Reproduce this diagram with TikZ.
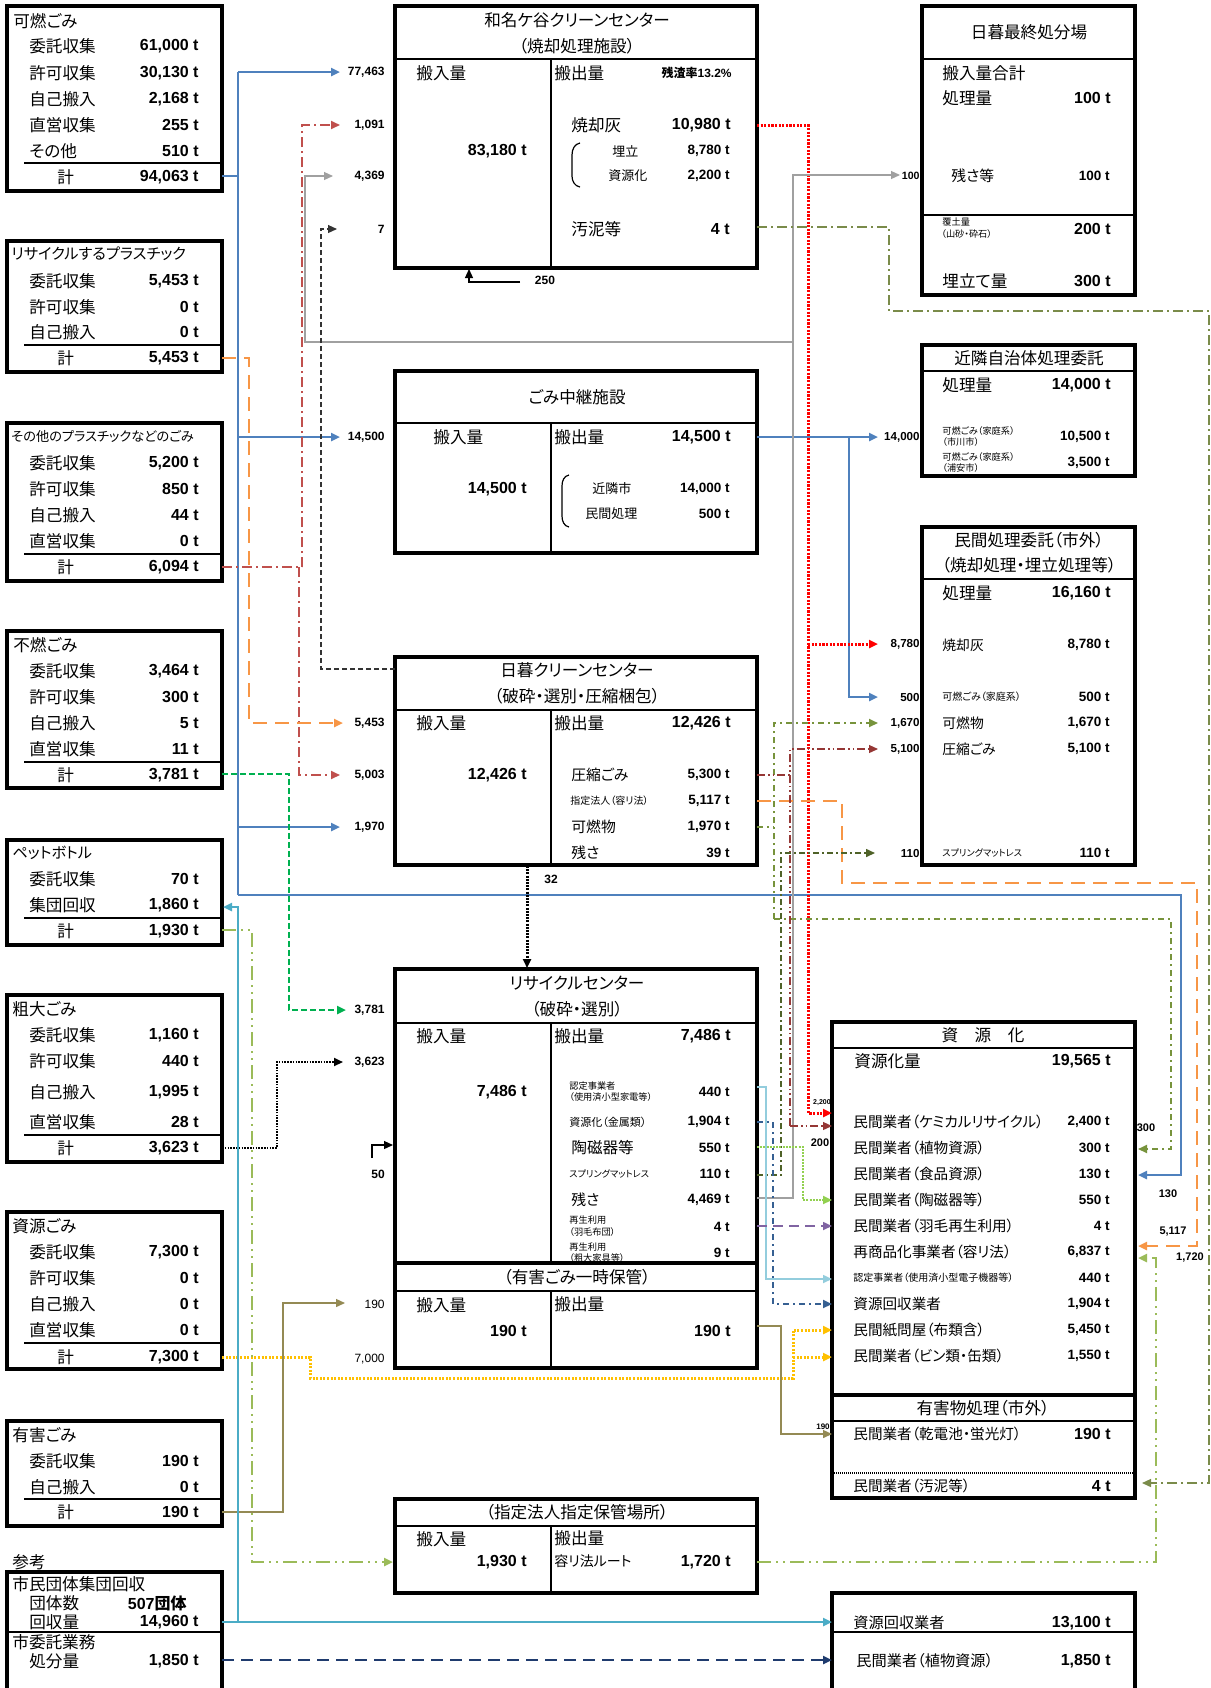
\documentclass[tikz,border=0pt]{standalone}
\usepackage{fontspec}
\setmainfont{Noto Sans CJK JP}[RawFeature=+palt]
\newfontfamily\lib{Liberation Sans}
\usetikzlibrary{arrows.meta}
\definecolor{cBlue}{HTML}{4F81BD}
\definecolor{cRed}{HTML}{FF0000}
\definecolor{cPl}{HTML}{C0504D}
\definecolor{cGray}{HTML}{A0A0A0}
\definecolor{cOrg}{HTML}{F79646}
\definecolor{cGrn}{HTML}{00B050}
\definecolor{cOli}{HTML}{7A8B4A}
\definecolor{cGdd}{HTML}{77933C}
\definecolor{cBrn}{HTML}{953735}
\definecolor{cDol}{HTML}{4F6228}
\definecolor{cLb}{HTML}{93CDDD}
\definecolor{cDb}{HTML}{366092}
\definecolor{cLg}{HTML}{92D050}
\definecolor{cPur}{HTML}{8064A2}
\definecolor{cKh}{HTML}{948A54}
\definecolor{cYel}{HTML}{FFC000}
\definecolor{cPet}{HTML}{9BBB59}
\definecolor{cCy}{HTML}{4BACC6}
\definecolor{cNav}{HTML}{1F3B6E}
\tikzset{
 every node/.style={inner sep=0pt},
 J/.style={font=\fontsize{#1}{#1}\selectfont},
 N/.style={font=\fontsize{#1}{#1}\lib\bfseries},
 R/.style={font=\fontsize{#1}{#1}\lib},
 box/.style={line width=1.6pt},
 sep/.style={line width=0.9pt},
 tip/.style={-{Triangle[length=4.5pt,width=4pt]}},
}
\newcommand\Lrow[4]{\node[J=8.3pt,anchor=west] (#1l) at (29,#2) {#3};\node[N=8pt,anchor=east] (#1v) at (199,#2) {#4};}
\newcommand\Ltot[3]{\node[J=8.3pt,anchor=west] (#1l) at (57,#2) {計};\node[N=8pt,anchor=east] (#1v) at (199,#2) {#3};}
\newcommand\Rrow[5]{\node[J=#4,anchor=west] (#1l) at (853,#2) {#3};\node[N=6.75pt,anchor=east] (#1v) at (1110,#2) {#5};}
\begin{document}
\begin{tikzpicture}[x=0.5pt,y=-0.5pt]
\useasboundingbox (0,0) rectangle (1211,1688);
\fill[white] (0,0) rectangle (1211,1688);

% ================= LEFT BOXES =================
\draw[box] (7,6) rectangle (222,191);
\node[J=8.3pt,anchor=west] (k0) at (13,21) {可燃ごみ};
\Lrow{k1}{46}{委託収集}{61,000 t}
\Lrow{k2}{73}{許可収集}{30,130 t}
\Lrow{k3}{99}{自己搬入}{2,168 t}
\Lrow{k4}{125}{直営収集}{255 t}
\Lrow{k5}{151}{その他}{510 t}
\draw[sep] (24,163) -- (220,163);
\Ltot{k6}{177}{94,063 t}

\draw[box] (7,241) rectangle (222,372);
\node[J=7.6pt,anchor=west] (p0) at (11,254) {リサイクルするプラスチック};
\Lrow{p1}{281}{委託収集}{5,453 t}
\Lrow{p2}{307}{許可収集}{0 t}
\Lrow{p3}{332}{自己搬入}{0 t}
\draw[sep] (24,345) -- (220,345);
\Ltot{p4}{358}{5,453 t}

\draw[box] (7,423) rectangle (222,581);
\node[J=6.6pt,anchor=west] (o0) at (11,436) {その他のプラスチックなどのごみ};
\Lrow{o1}{463}{委託収集}{5,200 t}
\Lrow{o2}{489}{許可収集}{850 t}
\Lrow{o3}{515}{自己搬入}{44 t}
\Lrow{o4}{541}{直営収集}{0 t}
\draw[sep] (24,554) -- (220,554);
\Ltot{o5}{567}{6,094 t}

\draw[box] (7,631) rectangle (222,788);
\node[J=8.3pt,anchor=west] (f0) at (13,645) {不燃ごみ};
\Lrow{f1}{671}{委託収集}{3,464 t}
\Lrow{f2}{697}{許可収集}{300 t}
\Lrow{f3}{723}{自己搬入}{5 t}
\Lrow{f4}{749}{直営収集}{11 t}
\draw[sep] (24,762) -- (220,762);
\Ltot{f5}{775}{3,781 t}

\draw[box] (7,840) rectangle (222,945);
\node[J=7.6pt,anchor=west] (b0) at (12,853) {ペットボトル};
\Lrow{b1}{879}{委託収集}{70 t}
\Lrow{b2}{905}{集団回収}{1,860 t}
\draw[sep] (24,918) -- (220,918);
\Ltot{b3}{931}{1,930 t}

\draw[box] (7,995) rectangle (222,1162);
\node[J=8.3pt,anchor=west] (s0) at (12,1009) {粗大ごみ};
\Lrow{s1}{1035}{委託収集}{1,160 t}
\Lrow{s2}{1061}{許可収集}{440 t}
\Lrow{s3}{1092}{自己搬入}{1,995 t}
\Lrow{s4}{1122}{直営収集}{28 t}
\draw[sep] (24,1135) -- (220,1135);
\Ltot{s5}{1148}{3,623 t}

\draw[box] (7,1212) rectangle (222,1369);
\node[J=8.3pt,anchor=west] (g0) at (12,1226) {資源ごみ};
\Lrow{g1}{1252}{委託収集}{7,300 t}
\Lrow{g2}{1278}{許可収集}{0 t}
\Lrow{g3}{1304}{自己搬入}{0 t}
\Lrow{g4}{1330}{直営収集}{0 t}
\draw[sep] (24,1343) -- (220,1343);
\Ltot{g5}{1357}{7,300 t}

\draw[box] (7,1421) rectangle (222,1526);
\node[J=8.3pt,anchor=west] (y0) at (12,1435) {有害ごみ};
\Lrow{y1}{1461}{委託収集}{190 t}
\Lrow{y2}{1487}{自己搬入}{0 t}
\draw[sep] (24,1499) -- (220,1499);
\Ltot{y3}{1512}{190 t}

\node[J=8.3pt,anchor=west] (ref) at (12,1562) {参考};
\draw[box] (7,1572) rectangle (222,1700);
\node[J=8.3pt,anchor=west] (m0) at (12,1584) {市民団体集団回収};
\node[J=8.3pt,anchor=west] (m1) at (29,1603) {団体数};
\node[N=8pt,anchor=east] (m2) at (187,1603) {507\fontspec{Noto Sans CJK JP}団体};
\node[J=8.3pt,anchor=west] (m3) at (29,1622) {回収量};
\node[N=8pt,anchor=east] (m4) at (199,1622) {14,960 t};
\draw[sep] (7,1632) -- (222,1632);
\node[J=8.3pt,anchor=west] (m5) at (12,1642) {市委託業務};
\node[J=8.3pt,anchor=west] (m6) at (29,1661) {処分量};
\node[N=8pt,anchor=east] (m7) at (199,1661) {1,850 t};

% ================= CENTER BOXES =================
% Wanagaya
\draw[box] (395,6) rectangle (757,268);
\draw[sep] (395,59) -- (757,59);
\draw[sep] (551,59) -- (551,268);
\node[J=8.3pt] (w0) at (577,20) {和名ケ谷クリーンセンター};
\node[J=8.3pt] (w1) at (577,46) {（焼却処理施設）};
\node[J=8.3pt,anchor=west] (w2) at (416,73) {搬入量};
\node[J=8.3pt,anchor=west] (w3) at (554,73) {搬出量};
\node[font=\fontsize{6pt}{6pt}\bfseries,anchor=east] (w4) at (732,73) {残渣率{\lib 13.2\%}};
\node[N=8pt,anchor=east] (w5) at (527,151) {83,180 t};
\node[J=8.3pt,anchor=west] (w6) at (571,125) {焼却灰};
\node[N=8pt,anchor=east] (w7) at (731,125) {10,980 t};
\node[J=6.5pt,anchor=west] (w8) at (612,151) {埋立};
\node[N=6.75pt,anchor=east] (w9) at (730,151) {8,780 t};
\node[J=6.5pt,anchor=west] (w10) at (608,176) {資源化};
\node[N=6.75pt,anchor=east] (w11) at (730,176) {2,200 t};
\node[J=8.3pt,anchor=west] (w12) at (571,229) {汚泥等};
\node[N=8pt,anchor=east] (w13) at (730,229) {4 t};
\draw[line width=0.6pt] (580,143) to[out=190,in=90] (572,155) -- (572,176) to[out=-90,in=170] (580,187);
\draw[line width=0.6pt,tip] (520,282) -- (469,282) -- (469,269);
\node[N=6pt] (w14) at (545,280) {250};

% relay
\draw[box] (395,371) rectangle (757,553);
\draw[sep] (395,423) -- (757,423);
\draw[sep] (551,423) -- (551,553);
\node[J=8.3pt] (r0) at (577,397) {ごみ中継施設};
\node[J=8.3pt,anchor=west] (r1) at (433,437) {搬入量};
\node[J=8.3pt,anchor=west] (r2) at (554,437) {搬出量};
\node[N=8pt,anchor=east] (r3) at (731,437) {14,500 t};
\node[N=8pt,anchor=east] (r4) at (527,489) {14,500 t};
\draw[line width=0.6pt] (569,475) to[out=190,in=90] (562,486) -- (562,516) to[out=-90,in=170] (569,527);
\node[J=6.5pt,anchor=west] (r5) at (592,489) {近隣市};
\node[N=6.75pt,anchor=east] (r6) at (730,489) {14,000 t};
\node[J=6.5pt,anchor=west] (r7) at (585,514) {民間処理};
\node[N=6.75pt,anchor=east] (r8) at (730,514) {500 t};

% Nippori CC
\draw[box] (395,657) rectangle (757,865);
\draw[sep] (395,710) -- (757,710);
\draw[sep] (551,710) -- (551,865);
\node[J=8.3pt] (n0) at (577,670) {日暮クリーンセンター};
\node[J=8.3pt] (n1) at (577,696) {（破砕・選別・圧縮梱包）};
\node[J=8.3pt,anchor=west] (n2) at (416,723) {搬入量};
\node[J=8.3pt,anchor=west] (n3) at (554,723) {搬出量};
\node[N=8pt,anchor=east] (n4) at (731,723) {12,426 t};
\node[N=8pt,anchor=east] (n5) at (527,775) {12,426 t};
\node[J=7.4pt,anchor=west] (n6) at (571,775) {圧縮ごみ};
\node[N=6.75pt,anchor=east] (n7) at (730,775) {5,300 t};
\node[J=5pt,anchor=west] (n8) at (570,801) {指定法人（容リ法）};
\node[N=6.75pt,anchor=east] (n9) at (730,801) {5,117 t};
\node[J=7.4pt,anchor=west] (n10) at (571,827) {可燃物};
\node[N=6.75pt,anchor=east] (n11) at (730,827) {1,970 t};
\node[J=7.4pt,anchor=west] (n12) at (571,853) {残さ};
\node[N=6.75pt,anchor=east] (n13) at (730,853) {39 t};

% Recycle center
\draw[box] (395,969) rectangle (757,1368);
\draw[sep] (395,1023) -- (757,1023);
\draw[box] (395,1263) -- (757,1263);
\draw[sep] (395,1291) -- (757,1291);
\draw[sep] (551,1023) -- (551,1263);
\draw[sep] (551,1291) -- (551,1368);
\node[J=8.3pt] (c0) at (577,983) {リサイクルセンター};
\node[J=8.3pt] (c1) at (577,1009) {（破砕・選別）};
\node[J=8.3pt,anchor=west] (c2) at (416,1036) {搬入量};
\node[J=8.3pt,anchor=west] (c3) at (554,1036) {搬出量};
\node[N=8pt,anchor=east] (c4) at (731,1036) {7,486 t};
\node[N=8pt,anchor=east] (c5) at (527,1092) {7,486 t};
\node[J=4.6pt,anchor=west] (c6) at (569,1086) {認定事業者};
\node[J=4.6pt,anchor=west] (c7) at (569,1097) {（使用済小型家電等）};
\node[N=6.75pt,anchor=east] (c8) at (730,1092) {440 t};
\node[J=5.5pt,anchor=west] (c9) at (569,1122) {資源化（金属類）};
\node[N=6.75pt,anchor=east] (c10) at (730,1122) {1,904 t};
\node[J=7.8pt,anchor=west] (c11) at (571,1148) {陶磁器等};
\node[N=6.75pt,anchor=east] (c12) at (730,1148) {550 t};
\node[J=4.6pt,anchor=west] (c13) at (569,1174) {スプリングマットレス};
\node[N=6.75pt,anchor=east] (c14) at (730,1174) {110 t};
\node[J=7.4pt,anchor=west] (c15) at (571,1200) {残さ};
\node[N=6.75pt,anchor=east] (c16) at (730,1200) {4,469 t};
\node[J=4.6pt,anchor=west] (c17) at (569,1220) {再生利用};
\node[J=4.6pt,anchor=west] (c18) at (569,1232) {（羽毛布団）};
\node[N=6.75pt,anchor=east] (c19) at (730,1227) {4 t};
\node[J=4.6pt,anchor=west] (c20) at (569,1247) {再生利用};
\node[J=4.6pt,anchor=west] (c21) at (569,1258) {（粗大家具等）};
\node[N=6.75pt,anchor=east] (c22) at (730,1253) {9 t};
\node[J=8.3pt] (h0) at (577,1277) {（有害ごみ一時保管）};
\node[J=8.3pt,anchor=west] (h1) at (416,1305) {搬入量};
\node[J=8.3pt,anchor=west] (h2) at (554,1304) {搬出量};
\node[N=8pt,anchor=east] (h3) at (527,1331) {190 t};
\node[N=8pt,anchor=east] (h4) at (731,1331) {190 t};

% designated storage
\draw[box] (395,1499) rectangle (757,1593);
\draw[sep] (395,1526) -- (757,1526);
\draw[sep] (551,1526) -- (551,1593);
\node[J=8.3pt] (d0) at (577,1512) {（指定法人指定保管場所）};
\node[J=8.3pt,anchor=west] (d1) at (416,1539) {搬入量};
\node[J=8.3pt,anchor=west] (d2) at (554,1538) {搬出量};
\node[N=8pt,anchor=east] (d3) at (527,1562) {1,930 t};
\node[J=7pt,anchor=west] (d4) at (554,1561) {容リ法ルート};
\node[N=8pt,anchor=east] (d5) at (731,1562) {1,720 t};

% ================= RIGHT BOXES =================
\draw[box] (922,6) rectangle (1135,295);
\draw[sep] (922,59) -- (1135,59);
\draw[sep] (922,215) -- (1135,215);
\node[J=8.3pt] (e0) at (1029,32) {日暮最終処分場};
\node[J=8.3pt,anchor=west] (e1) at (942,73) {搬入量合計};
\node[J=8.3pt,anchor=west] (e2) at (942,98) {処理量};
\node[N=8pt,anchor=east] (e3) at (1111,98) {100 t};
\node[J=7.4pt,anchor=west] (e4) at (951,176) {残さ等};
\node[N=6.75pt,anchor=east] (e5) at (1110,176) {100 t};
\node[J=4.6pt,anchor=west] (e6) at (942,222) {覆土量};
\node[J=4.6pt,anchor=west] (e7) at (941,234) {（山砂・砕石）};
\node[N=8pt,anchor=east] (e8) at (1111,229) {200 t};
\node[J=8.3pt,anchor=west] (e9) at (942,281) {埋立て量};
\node[N=8pt,anchor=east] (e10) at (1111,281) {300 t};

\draw[box] (922,345) rectangle (1135,476);
\draw[sep] (922,371) -- (1135,371);
\node[J=8.3pt] (q0) at (1029,358) {近隣自治体処理委託};
\node[J=8.3pt,anchor=west] (q1) at (942,385) {処理量};
\node[N=8pt,anchor=east] (q2) at (1111,385) {14,000 t};
\node[J=4.6pt,anchor=west] (q3) at (942,431) {可燃ごみ（家庭系）};
\node[J=4.6pt,anchor=west] (q4) at (942,442) {（市川市）};
\node[N=6.75pt,anchor=east] (q5) at (1110,437) {10,500 t};
\node[J=4.6pt,anchor=west] (q6) at (942,457) {可燃ごみ（家庭系）};
\node[J=4.6pt,anchor=west] (q7) at (942,468) {（浦安市）};
\node[N=6.75pt,anchor=east] (q8) at (1110,463) {3,500 t};

\draw[box] (922,527) rectangle (1135,865);
\draw[sep] (922,579) -- (1135,579);
\node[J=8.3pt] (u0) at (1029,540) {民間処理委託（市外）};
\node[J=8.3pt] (u1) at (1029,565) {（焼却処理・埋立処理等）};
\node[J=8.3pt,anchor=west] (u2) at (942,593) {処理量};
\node[N=8pt,anchor=east] (u3) at (1111,593) {16,160 t};
\node[J=6.9pt,anchor=west] (u4) at (942,645) {焼却灰};
\node[N=6.75pt,anchor=east] (u5) at (1110,645) {8,780 t};
\node[J=5pt,anchor=west] (u6) at (942,697) {可燃ごみ（家庭系）};
\node[N=6.75pt,anchor=east] (u7) at (1110,697) {500 t};
\node[J=6.9pt,anchor=west] (u8) at (942,723) {可燃物};
\node[N=6.75pt,anchor=east] (u9) at (1110,723) {1,670 t};
\node[J=6.9pt,anchor=west] (u10) at (942,749) {圧縮ごみ};
\node[N=6.75pt,anchor=east] (u11) at (1110,749) {5,100 t};
\node[J=4.6pt,anchor=west] (u12) at (942,853) {スプリングマットレス};
\node[N=6.75pt,anchor=east] (u13) at (1110,853) {110 t};

\draw[box] (832,1022) rectangle (1135,1498);
\draw[sep] (832,1048) -- (1135,1048);
\draw[box] (832,1395) -- (1135,1395);
\draw[sep] (832,1421) -- (1135,1421);
\draw[line width=0.9pt,dash pattern=on 0.6pt off 0.4pt] (832,1473) -- (1135,1473);
\node[J=8.3pt] (z0) at (983,1035) {資　源　化};
\node[J=8.3pt,anchor=west] (z1) at (854,1061) {資源化量};
\node[N=8pt,anchor=east] (z2) at (1111,1061) {19,565 t};
\Rrow{z3}{1122}{民間業者（ケミカルリサイクル）}{7.3pt}{2,400 t}
\Rrow{z4}{1148}{民間業者（植物資源）}{7.3pt}{300 t}
\Rrow{z5}{1174}{民間業者（食品資源）}{7.3pt}{130 t}
\Rrow{z6}{1200}{民間業者（陶磁器等）}{7.3pt}{550 t}
\Rrow{z7}{1226}{民間業者（羽毛再生利用）}{7.3pt}{4 t}
\Rrow{z8}{1252}{再商品化事業者（容リ法）}{7.3pt}{6,837 t}
\Rrow{z9}{1278}{認定事業者（使用済小型電子機器等）}{5pt}{440 t}
\Rrow{z10}{1304}{資源回収業者}{7.3pt}{1,904 t}
\Rrow{z11}{1330}{民間紙問屋（布類含）}{7.3pt}{5,450 t}
\Rrow{z12}{1356}{民間業者（ビン類・缶類）}{7.3pt}{1,550 t}
\node[J=8.3pt] (z13) at (983,1408) {有害物処理（市外）};
\node[J=7.3pt,anchor=west] (z14) at (853,1434) {民間業者（乾電池・蛍光灯）};
\node[N=8pt,anchor=east] (z15) at (1111,1434) {190 t};
\node[J=7.3pt,anchor=west] (z16) at (853,1486) {民間業者（汚泥等）};
\node[N=8pt,anchor=east] (z17) at (1111,1486) {4 t};

\draw[box] (832,1593) rectangle (1135,1700);
\draw[sep] (832,1632) -- (1135,1632);
\node[J=7.6pt,anchor=west] (x0) at (853,1623) {資源回収業者};
\node[N=8pt,anchor=east] (x1) at (1111,1623) {13,100 t};
\node[J=7.6pt,anchor=west] (x2) at (856,1661) {民間業者（植物資源）};
\node[N=8pt,anchor=east] (x3) at (1111,1661) {1,850 t};

% ================= ARROW LABELS =================
\node[N=6pt,anchor=east] (a1) at (385,72) {77,463};
\node[N=6pt,anchor=east] (a2) at (385,125) {1,091};
\node[N=6pt,anchor=east] (a3) at (385,176) {4,369};
\node[N=6pt,anchor=east] (a4) at (385,229) {7};
\node[N=6pt,anchor=east] (a5) at (385,437) {14,500};
\node[N=6pt,anchor=east] (a6) at (385,723) {5,453};
\node[N=6pt,anchor=east] (a7) at (385,775) {5,003};
\node[N=6pt,anchor=east] (a8) at (385,827) {1,970};
\node[N=6pt,anchor=east] (a9) at (385,1010) {3,781};
\node[N=6pt,anchor=east] (a10) at (385,1062) {3,623};
\node[N=6pt] (a11) at (378,1174) {50};
\node[R=6pt,anchor=east] (a12) at (385,1304) {190};
\node[R=6pt,anchor=east] (a13) at (385,1359) {7,000};
\node[N=6pt] (a14) at (551,879) {32};
\node[N=5.3pt,anchor=east] (b1) at (920,176) {100};
\node[N=5.8pt,anchor=east] (b2) at (920,437) {14,000};
\node[N=5.8pt,anchor=east] (b3) at (920,644) {8,780};
\node[N=5.8pt,anchor=east] (b4) at (920,697) {500};
\node[N=5.8pt,anchor=east] (b5) at (920,723) {1,670};
\node[N=5.8pt,anchor=east] (b6) at (920,749) {5,100};
\node[N=5.8pt,anchor=east] (b7) at (920,853) {110};
\node[N=3.5pt] (t1) at (822,1103) {2,200};
\node[N=5.5pt] (t2) at (820,1143) {200};
\node[N=5.5pt] (t3) at (1146,1128) {300};
\node[N=5.5pt] (t4) at (1168,1194) {130};
\node[N=5.5pt] (t5) at (1173,1232) {5,117};
\node[N=5.5pt] (t6) at (1190,1257) {1,720};
\node[N=4pt] (t7) at (823,1427) {190};

% ================= CONNECTORS =================
% combustible (blue)
\begin{scope}[cBlue,line width=1.2pt]
\draw (222,176) -- (238,176);
\draw (238,72) -- (238,895);
\draw[tip] (238,72) -- (340,72);
\draw[tip] (238,437) -- (340,437);
\draw[tip] (238,827) -- (340,827);
\draw[tip] (238,895) -- (1181,895) -- (1181,1175) -- (1138,1175);
\draw (757,437) -- (849,437);
\draw[tip] (849,437) -- (878,437);
\draw[tip] (849,437) -- (849,697) -- (878,697);
\end{scope}
% incineration ash (red dotted)
\begin{scope}[cRed,line width=1.5pt,dash pattern=on 1.1pt off 0.7pt]
\draw[tip] (757,125) -- (808,125) -- (808,1113) -- (832,1113);
\draw[tip] (808,644) -- (878,644);
\end{scope}
% other plastics (dash-dot)
\begin{scope}[cPl,line width=0.9pt,dash pattern=on 5pt off 2pt on 1pt off 2pt]
\draw (222,567) -- (302,567);
\draw[tip] (302,567) -- (302,125) -- (340,125);
\draw[tip] (299,567) -- (299,775) -- (340,775);
\end{scope}
% residue (gray)
\begin{scope}[cGray,line width=0.6pt]
\draw[tip] (757,1198) -- (793,1198) -- (793,175) -- (900,175);
\draw[tip] (793,342) -- (305,342) -- (305,176) -- (333,176);
\end{scope}
% 7 (black dashed)
\draw[black!80,line width=0.6pt,dash pattern=on 2.5pt off 1.5pt,tip] (395,669) -- (321,669) -- (321,229) -- (337,229);
% recycle plastic (orange dashed)
\draw[cOrg,line width=1.3pt,dash pattern=on 7pt off 4pt,tip] (222,358) -- (249,358) -- (249,723) -- (343,723);
\draw[cOrg,line width=1.3pt,dash pattern=on 7pt off 4pt,tip] (757,801) -- (842,801) -- (842,883) -- (1197,883) -- (1197,1246) -- (1138,1246);
% incombustible (green dashed)
\draw[cGrn,line width=1.4pt,dash pattern=on 3pt off 1.5pt,tip] (222,774) -- (289,774) -- (289,1010) -- (346,1010);
% bulky (black dotted)
\draw[black,line width=1pt,dash pattern=on 0.8pt off 0.6pt,tip] (222,1148) -- (277,1148) -- (277,1062) -- (343,1062);
% resources (yellow dotted)
\begin{scope}[cYel,line width=1.5pt,dash pattern=on 1pt off 0.8pt]
\draw[tip] (222,1357) -- (310,1357) -- (310,1378) -- (793,1378) -- (793,1330) -- (832,1330);
\draw[tip] (793,1357) -- (832,1357);
\end{scope}
% hazardous (khaki)
\draw[cKh,line width=0.7pt,tip] (222,1512) -- (283,1512) -- (283,1303) -- (345,1303);
\draw[cKh,line width=0.7pt,tip] (757,1326) -- (781,1326) -- (781,1434) -- (832,1434);
% PET (green dash-dot-dot)
\begin{scope}[cPet,line width=1.3pt,dash pattern=on 7pt off 2.5pt on 1pt off 2.5pt on 1pt off 2.5pt]
\draw[tip] (222,930) -- (252,930) -- (252,1562) -- (393,1562);
\draw[tip] (757,1562) -- (1156,1562) -- (1156,1258) -- (1138,1258);
\end{scope}
% group collection (cyan)
\begin{scope}[cCy,line width=1.4pt]
\draw[tip] (222,1622) -- (238,1622) -- (238,907) -- (223,907);
\draw[tip] (238,1622) -- (832,1622);
\end{scope}
% city consignment (navy dashed)
\draw[cNav,line width=1.1pt,dash pattern=on 6pt off 3.5pt,tip] (222,1660) -- (832,1660);
% 32
\draw[black,line width=1.5pt,dash pattern=on 1pt off 0.6pt,tip] (527,866) -- (527,968);
% 50
\draw[black,line width=0.6pt,tip] (372,1158) -- (372,1145) -- (393,1145);
% sludge (olive dash-dot)
\draw[cOli,line width=0.7pt,dash pattern=on 5pt off 2pt on 1pt off 2pt,tip] (757,227) -- (889,227) -- (889,311) -- (1209,311) -- (1209,1483) -- (1142,1483);
% combustibles from Nippori (green dash-dot)
\begin{scope}[cGdd,line width=0.9pt,dash pattern=on 3pt off 2pt on 1pt off 2pt]
\draw (757,827) -- (774,827);
\draw[tip] (774,919) -- (774,723) -- (878,723);
\draw[tip] (774,919) -- (1171,919) -- (1171,1149) -- (1138,1149);
\end{scope}
% compressed (brown dash-dot-dot)
\begin{scope}[cBrn,line width=0.6pt,dash pattern=on 4pt off 1.5pt on 0.8pt off 1.5pt on 0.8pt off 1.5pt]
\draw (757,775) -- (790,775);
\draw[tip] (790,1126) -- (790,749) -- (878,749);
\draw[tip] (790,1126) -- (832,1126);
\end{scope}
% spring mattress (dark olive)
\draw[cDol,line width=0.8pt,dash pattern=on 3pt off 1.5pt on 1pt off 1.5pt,tip] (757,1175) -- (781,1175) -- (781,853) -- (875,853);
% small appliances (light blue)
\draw[cLb,line width=0.8pt,tip] (757,1087) -- (766,1087) -- (766,1279) -- (832,1279);
% metals (dark blue dash-dot)
\draw[cDb,line width=1pt,dash pattern=on 3pt off 2pt on 1pt off 2pt,tip] (757,1122) -- (773,1122) -- (773,1304) -- (832,1304);
% ceramics (light green dotted)
\draw[cLg,line width=1pt,dash pattern=on 1pt off 0.6pt,tip] (757,1147) -- (803,1147) -- (803,1200) -- (832,1200);
% futon (purple dashed)
\draw[cPur,line width=0.8pt,dash pattern=on 5pt off 3pt,tip] (757,1226) -- (832,1226);
\end{tikzpicture}
\end{document}
